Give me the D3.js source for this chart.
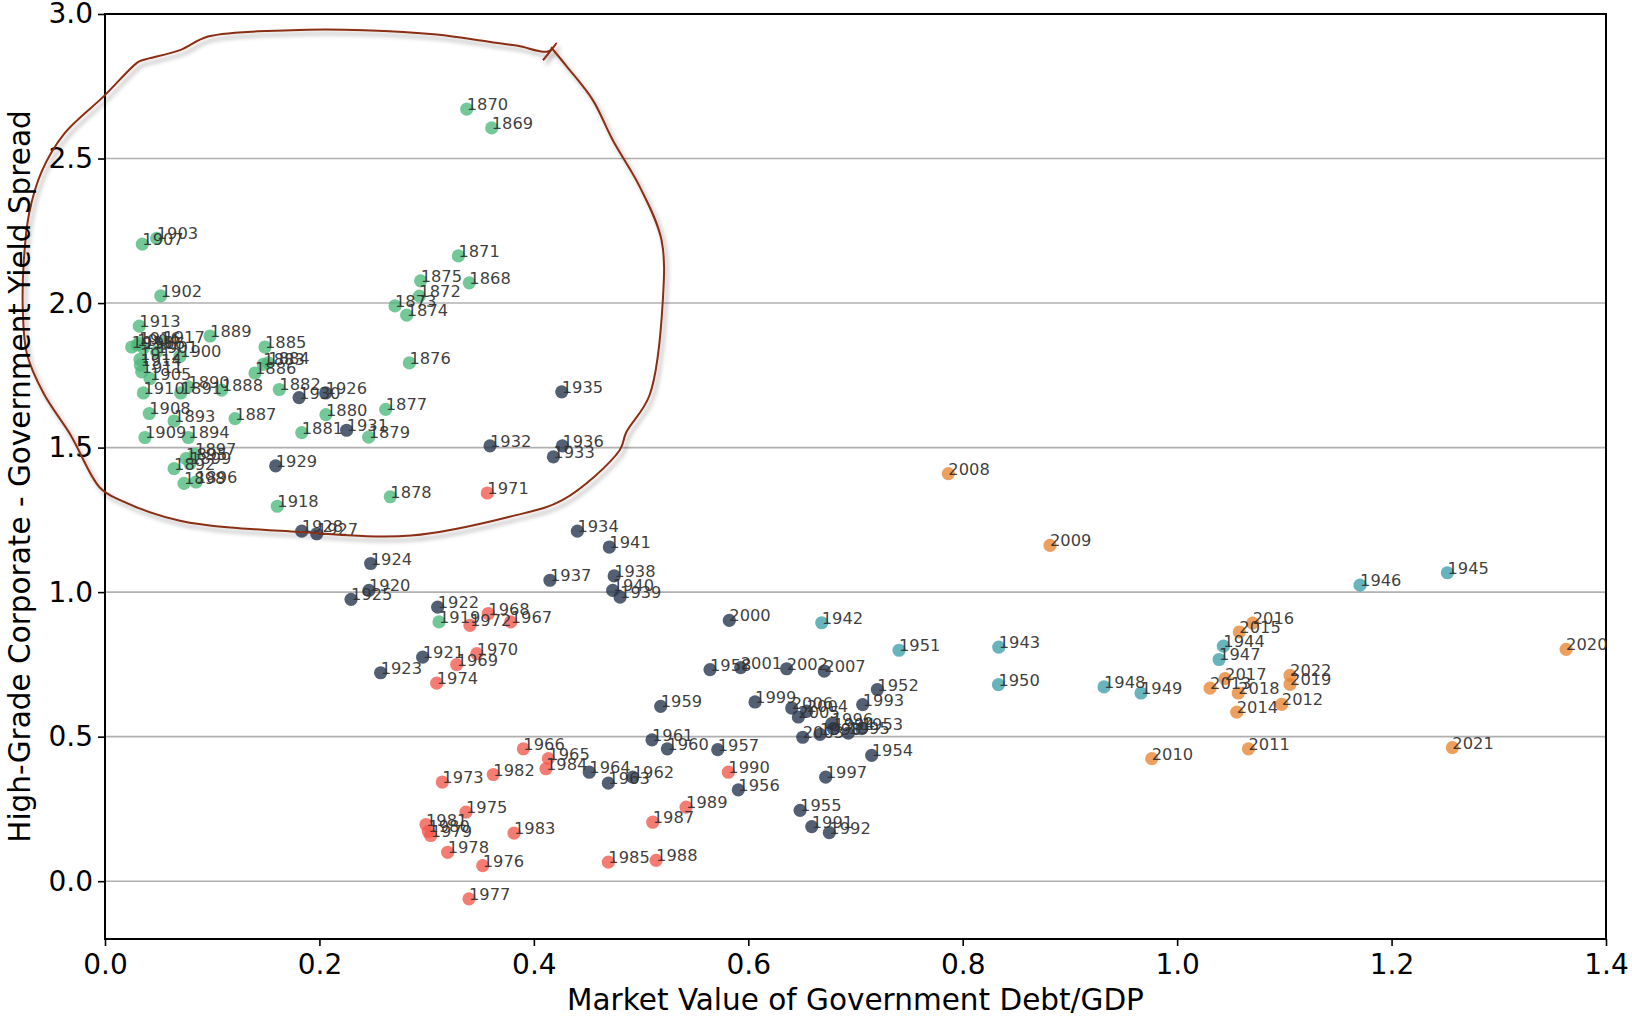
<!DOCTYPE html>
<html>
<head>
<meta charset="utf-8">
<script src="https://cdn.jsdelivr.net/npm/d3@7"></script>
<style>
  html, body { margin: 0; padding: 0; background: #fff; }
  svg { display: block; font-family: "DejaVu Sans", sans-serif; }
</style>
</head>
<body>
<script>
// ---------- data ----------
const years = [1868,1869,1870,1871,1872,1873,1874,1875,1876,1877,1878,1879,1880,1881,1882,1883,1884,1885,1886,1887,1888,1889,1890,1891,1892,1893,1894,1895,1896,1897,1898,1899,1900,1901,1902,1903,1904,1905,1906,1907,1908,1909,1910,1911,1912,1913,1914,1915,1916,1917,1918,1919,
1920,1921,1922,1923,1924,1925,1926,1927,1928,1929,1930,1931,1932,1933,1934,1935,1936,1937,1938,1939,1940,1941,
1942,1943,1944,1945,1946,1947,1948,1949,1950,1951,
1952,1953,1954,1955,1956,1957,1958,1959,1960,1961,1962,1963,1964,
1965,1966,1967,1968,1969,1970,1971,1972,1973,1974,1975,1976,1977,1978,1979,1980,1981,1982,1983,1984,1985,1987,1988,1989,1990,
1991,1992,1993,1994,1995,1996,1997,1998,1999,2000,2001,2002,2003,2004,2005,2006,2007,
2008,2009,2010,2011,2012,2013,2014,2015,2016,2017,2018,2019,2020,2021,2022];

const debtToGdp = [0.3398,0.3607,0.3374,0.3296,0.2932,0.2705,0.2814,0.2944,0.2839,0.2618,0.2661,0.2459,0.2061,0.1835,0.1626,0.1477,0.1523,0.1492,0.1399,0.1213,0.1088,0.0980,0.0777,0.0706,0.0644,0.0644,0.0777,0.0756,0.0849,0.0840,0.0737,0.0793,0.0700,0.0482,0.0520,0.0482,0.0300,0.0420,0.0360,0.0348,0.0413,0.0373,0.0358,0.0342,0.0326,0.0320,0.0330,0.0249,0.0320,0.0544,0.1607,0.3115,
0.2462,0.2963,0.3103,0.2571,0.2478,0.2295,0.2058,0.1975,0.1835,0.1592,0.1810,0.2254,0.3591,0.4182,0.4406,0.4260,0.4266,0.4150,0.4749,0.4804,0.4735,0.4704,
0.6685,0.8336,1.0431,1.2521,1.1706,1.0391,0.9318,0.9663,0.8333,0.7406,
0.7204,0.7058,0.7151,0.6483,0.5907,0.5715,0.5643,0.5183,0.5245,0.5102,0.4922,0.4695,0.4517,
0.4135,0.3902,0.3784,0.3575,0.3280,0.3467,0.3566,0.3404,0.3146,0.3094,0.3367,0.3523,0.3395,0.3196,0.3038,0.3016,0.2994,0.3622,0.3815,0.4113,0.4695,0.5109,0.5140,0.5420,0.5814,
0.6592,0.6756,0.7067,0.6794,0.6933,0.6778,0.6722,0.6669,0.6063,0.5823,0.5929,0.6358,0.6508,0.6545,0.6467,0.6405,0.6709,
0.7866,0.8814,0.9763,1.0665,1.0976,1.0307,1.0556,1.0580,1.0705,1.0447,1.0570,1.1053,1.3628,1.2567,1.1053];

const spread = [2.070,2.606,2.671,2.163,2.024,1.990,1.958,2.077,1.793,1.632,1.330,1.536,1.614,1.552,1.701,1.788,1.793,1.848,1.758,1.600,1.699,1.886,1.710,1.689,1.427,1.592,1.535,1.462,1.381,1.477,1.376,1.445,1.816,1.831,2.025,2.224,1.855,1.739,1.845,2.204,1.618,1.535,1.689,1.762,1.805,1.920,1.785,1.848,1.862,1.866,1.297,0.897,
1.006,0.775,0.948,0.721,1.099,0.975,1.689,1.202,1.211,1.437,1.673,1.560,1.506,1.468,1.211,1.693,1.506,1.041,1.056,0.983,1.006,1.156,
0.894,0.810,0.813,1.067,1.024,0.767,0.672,0.651,0.680,0.799,
0.663,0.528,0.435,0.245,0.316,0.455,0.732,0.605,0.458,0.489,0.360,0.339,0.377,
0.424,0.458,0.897,0.926,0.749,0.787,1.343,0.885,0.343,0.685,0.239,0.054,-0.061,0.100,0.158,0.172,0.196,0.369,0.166,0.389,0.066,0.204,0.072,0.256,0.377,
0.189,0.168,0.611,0.528,0.512,0.545,0.360,0.508,0.620,0.902,0.739,0.735,0.498,0.588,0.568,0.599,0.727,
1.410,1.162,0.424,0.458,0.612,0.668,0.585,0.862,0.893,0.701,0.651,0.681,0.802,0.462,0.712];

// periods (first year of each colour regime)
const periodStarts = [1868, 1920, 1942, 1952, 1965, 1991, 2008];
const periodColors = ["#4cb97b", "#22324b", "#3d9fab", "#22324b", "#f2574b", "#22324b", "#e8842f"];

const xTicks = [0.0, 0.2, 0.4, 0.6, 0.8, 1.0, 1.2, 1.4];
const yTicks = [0.0, 0.5, 1.0, 1.5, 2.0, 2.5, 3.0];
const xLabel = "Market Value of Government Debt/GDP";
const yLabel = "High-Grade Corporate - Government Yield Spread";

// hand-drawn annotation loop (in data units)
const loopDebt =   [0.4085,0.4210,0.4130,0.3852,0.3580,0.3095,0.2416,0.1737,0.0961,0.0700,0.0355,0.0301,-0.0010,-0.0378,-0.0592,-0.0708,-0.0757,-0.0766,-0.0728,-0.0572,-0.0320,-0.0049,0.0136,0.0699,0.1814,0.2857,0.3774,0.4269,0.4800,0.4861,0.5079,0.5203,0.5190,0.4987,0.4735,0.4550,0.4308,0.4160];
const loopSpread = [2.840,2.898,2.870,2.890,2.904,2.929,2.944,2.944,2.922,2.875,2.841,2.832,2.716,2.587,2.454,2.310,2.148,1.968,1.824,1.687,1.543,1.362,1.319,1.247,1.208,1.196,1.261,1.319,1.491,1.552,1.681,2.010,2.219,2.403,2.564,2.702,2.818,2.885];

// ---------- layout ----------
const W = 1632, H = 1016;
const M = { left: 105, top: 14, right: 26, bottom: 77 };
const pw = W - M.left - M.right, ph = H - M.top - M.bottom;

const svg = d3.select("body").append("svg").attr("width", W).attr("height", H);

const defs = svg.append("defs");
const f = defs.append("filter").attr("id", "shadow").attr("x", "-10%").attr("y", "-10%").attr("width", "130%").attr("height", "130%");
f.append("feDropShadow").attr("dx", 3).attr("dy", 4).attr("stdDeviation", 2.2)
  .attr("flood-color", "#000").attr("flood-opacity", 0.35);

const x = d3.scaleLinear().domain([0, 1.4]).range([M.left, M.left + pw]);
const y = d3.scaleLinear().domain([-0.2, 3.0]).range([M.top + ph, M.top]);

const colorOf = yr => {
  let idx = 0;
  periodStarts.forEach((s, i) => { if (yr >= s) idx = i; });
  return periodColors[idx];
};

// grid
svg.append("g").selectAll("line").data(yTicks).join("line")
  .attr("x1", M.left).attr("x2", M.left + pw)
  .attr("y1", d => y(d)).attr("y2", d => y(d))
  .attr("stroke", "#b0b0b0").attr("stroke-width", 1.6);

// axes
const xAxis = svg.append("g").attr("transform", `translate(0,${M.top + ph})`)
  .call(d3.axisBottom(x).tickValues(xTicks).tickFormat(d3.format(".1f")).tickSize(7).tickPadding(6));
const yAxis = svg.append("g").attr("transform", `translate(${M.left},0)`)
  .call(d3.axisLeft(y).tickValues(yTicks).tickFormat(d3.format(".1f")).tickSize(7).tickPadding(5));
[xAxis, yAxis].forEach(a => {
  a.select(".domain").remove();
  a.selectAll(".tick line").attr("stroke", "#000").attr("stroke-width", 1.6);
  a.selectAll(".tick text").attr("font-size", 28).attr("fill", "#000").attr("font-family", "DejaVu Sans");
});
xAxis.selectAll(".tick text").attr("dy", "0.78em");

// frame
svg.append("rect").attr("x", M.left).attr("y", M.top).attr("width", pw).attr("height", ph)
  .attr("fill", "none").attr("stroke", "#000").attr("stroke-width", 2);

// points
const pts = years.map((yr, i) => ({ yr, dx: debtToGdp[i], sp: spread[i] }));
svg.append("g").selectAll("circle").data(pts).join("circle")
  .attr("cx", d => x(d.dx)).attr("cy", d => y(d.sp)).attr("r", 6.6)
  .attr("fill", d => colorOf(d.yr)).attr("fill-opacity", 0.78);

svg.append("g").selectAll("text").data(pts).join("text")
  .attr("x", d => x(d.dx)).attr("y", d => y(d.sp) + 1)
  .attr("font-size", 16.3).attr("fill", "#333").attr("fill-opacity", 0.95)
  .text(d => d.yr);

// annotation loop
const loopPts = loopDebt.map((d, i) => [x(d), y(loopSpread[i])]);
svg.append("path")
  .attr("d", d3.line().curve(d3.curveCatmullRom.alpha(0.5))(loopPts))
  .attr("fill", "none").attr("stroke", "#8a2e12").attr("stroke-width", 2)
  .attr("stroke-linejoin", "round").attr("filter", "url(#shadow)");

// axis titles
svg.append("text").attr("x", M.left + pw / 2).attr("y", 1010)
  .attr("text-anchor", "middle").attr("font-size", 29.5).attr("fill", "#000")
  .text(xLabel);
svg.append("text").attr("transform", `translate(30,${M.top + ph / 2}) rotate(-90)`)
  .attr("text-anchor", "middle").attr("font-size", 29.5).attr("fill", "#000")
  .text(yLabel);
</script>
</body>
</html>
